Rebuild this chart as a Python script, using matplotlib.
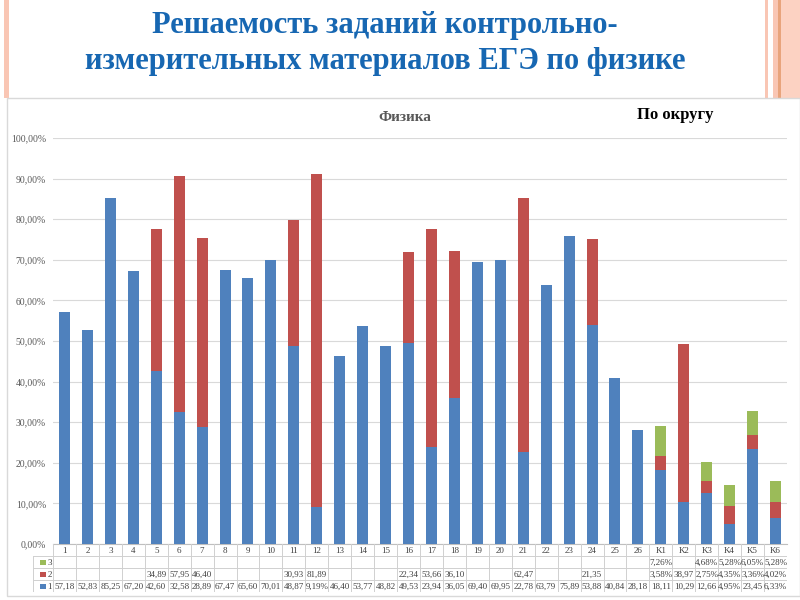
import matplotlib.pyplot as plt
from matplotlib.patches import Rectangle
import numpy as np

categories = [str(i) for i in range(1, 27)] + ['K1', 'K2', 'K3', 'K4', 'K5', 'K6']
series1 = [57.18, 52.83, 85.25, 67.20, 42.60, 32.58, 28.89, 67.47, 65.60, 70.01,
           48.87, 9.19, 46.40, 53.77, 48.82, 49.53, 23.94, 36.05, 69.40, 69.95,
           22.78, 63.79, 75.89, 53.88, 40.84, 28.18,
           18.11, 10.29, 12.66, 4.95, 23.45, 6.33]
series2 = [None, None, None, None, 34.89, 57.95, 46.40, None, None, None,
           30.93, 81.89, None, None, None, 22.34, 53.66, 36.10, None, None,
           62.47, None, None, 21.35, None, None,
           3.58, 38.97, 2.75, 4.35, 3.36, 4.02]
series3 = [None] * 26 + [7.26, None, 4.68, 5.28, 6.05, 5.28]

blue, red, green = '#4F81BD', '#C0504D', '#9BBB59'
W, H = 800, 600

def fmt(v):
    if v is None:
        return ''
    s = '{:.2f}'.format(v).replace('.', ',')
    return s + '%' if v < 10 else s

s1 = np.array(series1) / 100
s2 = np.array([0 if v is None else v for v in series2]) / 100
s3 = np.array([0 if v is None else v for v in series3]) / 100
x = np.arange(len(categories))

fig = plt.figure(figsize=(8, 6), dpi=100)
serif = 'Liberation Serif'

# slide decoration stripes
def px_rect(x0, y0, w, h, color):
    fig.patches.append(Rectangle((x0 / W, 1 - (y0 + h) / H), w / W, h / H,
                                 transform=fig.transFigure, color=color, lw=0, zorder=0))

px_rect(4, 0, 5, 98, '#F9C6B4')
px_rect(765, 0, 3, 98, '#F9C6B4')
px_rect(773, 0, 5, 98, '#F9C6B4')
px_rect(778, 0, 3, 98, '#E8A47C')
px_rect(781, 0, 19, 98, '#FCD2C2')

# chart frame
fig.patches.append(Rectangle((7 / W, 1 - 596 / H), 793 / W, 498 / H, transform=fig.transFigure,
                             facecolor='white', edgecolor='#D9D9D9', lw=1, zorder=1))

fig.text(385 / W, 1 - 26 / H, 'Решаемость заданий контрольно-', ha='center', va='center',
         fontsize=22, fontweight='bold', color='#1767B2', family=serif)
fig.text(385 / W, 1 - 61 / H, 'измерительных материалов ЕГЭ по физике', ha='center', va='center',
         fontsize=22, fontweight='bold', color='#1767B2', family=serif)

left, right = 53, 787
top, base = 138, 544
ax = fig.add_axes([left / W, 1 - base / H, (right - left) / W, (base - top) / H])
ax.set_zorder(2)
ax.patch.set_alpha(0)
bw = 0.48
ax.bar(x, s1, bw, color=blue, zorder=3)
ax.bar(x, s2, bw, bottom=s1, color=red, zorder=3)
ax.bar(x, s3, bw, bottom=s1 + s2, color=green, zorder=3)
ax.set_xlim(-0.5, len(categories) - 0.5)
ax.set_ylim(0, 1)
ax.set_yticks(np.arange(0, 1.01, 0.1))
ax.set_yticklabels([('{:.2f}'.format(v * 100)).replace('.', ',') + '%' for v in np.arange(0, 1.01, 0.1)],
                   fontsize=7, color='#595959', family=serif)
ax.tick_params(axis='y', length=0, pad=5)
ax.set_xticks([])
ax.grid(axis='y', color='#D9D9D9', lw=0.8, zorder=0)
for sp in ['top', 'right', 'left']:
    ax.spines[sp].set_visible(False)
ax.spines['bottom'].set_color('#BFBFBF')

fig.text(405 / W, 1 - 117 / H, 'Физика', ha='center', va='center', fontsize=11,
         fontweight='bold', color='#595959', family=serif)
fig.text(675 / W, 1 - 115 / H, 'По округу', ha='center', va='center', fontsize=12,
         fontweight='bold', color='black', family=serif)

# data table
key_w = 20 / ((right - left) / len(categories))
tax = fig.add_axes([33 / W, 1 - 592 / H, (right - 33) / W, 48 / H])
tax.set_zorder(2)
tax.set_xlim(-0.5 - key_w, len(categories) - 0.5)
tax.set_ylim(4, 0)
tax.axis('off')
lc = '#D0D0D0'
n = len(categories)
for i in range(n + 1):
    tax.plot([i - 0.5, i - 0.5], [0, 4], color=lc, lw=0.7)
tax.plot([-0.5 - key_w] * 2, [1, 4], color=lc, lw=0.7)
for r in range(1, 5):
    tax.plot([-0.5 - key_w, n - 0.5], [r, r], color=lc, lw=0.7)
tc = '#404040'
for i, c in enumerate(categories):
    tax.text(i, 0.55, c, ha='center', va='center', fontsize=6.5, color=tc, family=serif)
rows = [('3', green, series3), ('2', red, series2), ('1', blue, series1)]
for r, (lab, col, vals) in enumerate(rows, start=1):
    tax.add_patch(Rectangle((-0.5 - key_w + 0.3, r + 0.3), 0.28, 0.45, color=col, lw=0))
    tax.text(-0.5 - key_w + 0.62, r + 0.55, lab, ha='left', va='center', fontsize=6.5,
             color=tc, family=serif)
    for i, v in enumerate(vals):
        tax.text(i, r + 0.55, fmt(v), ha='center', va='center', fontsize=6.5,
                 color=tc, family=serif)

fig.savefig('out.png', dpi=100)
